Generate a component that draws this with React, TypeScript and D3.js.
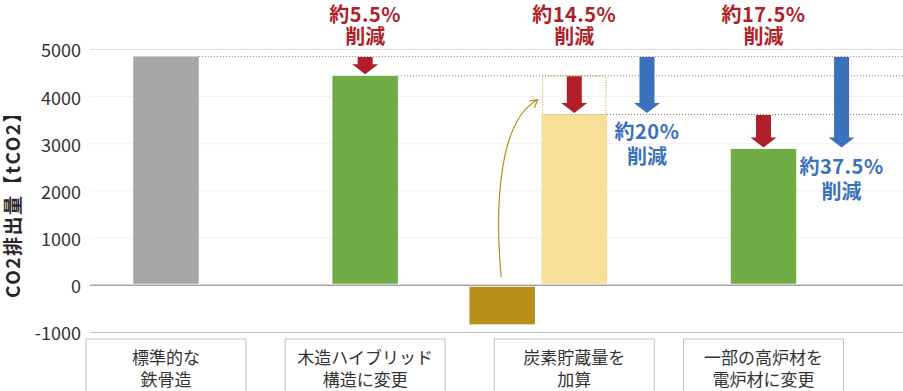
import React from "react";
import * as d3 from "d3";

// ---- data ----
const categoryLine1 = ["標準的な", "木造ハイブリッド", "炭素貯蔵量を", "一部の高炉材を"];
const categoryLine2 = ["鉄骨造", "構造に変更", "加算", "電炉材に変更"];
const barNames = ["標準的な鉄骨造", "木造ハイブリッド", "炭素貯蔵量", "加算後", "電炉材に変更"];
const barValues = [4850, 4440, -830, 3620, 2890];
const yTicks = [-1000, 0, 1000, 2000, 3000, 4000, 5000];
const redLabels = ["約5.5%", "約14.5%", "約17.5%"];
const redFrom = [4850, 4440, 3620];
const redTo = [4440, 3620, 2890];
const blueLabels = ["約20%", "約37.5%"];
const blueFrom = [4850, 4850];
const blueTo = [3620, 2890];
const axisTitle = "CO2排出量【tCO2】";

// ---- layout ----
const W = 903;
const H = 391;
const barPos = [0, 1, 1.688, 2.05, 3];
const redPos = [1, 2.05, 3];
const bluePos = [2.415, 3.392];
const boxPos = [0, 1, 2.05, 3];
const barColors = ["#A6A6A6", "#70AD47", "#B8901C", "#F7DF9A", "#70AD47"];
const RED = "#B01F29";
const BLUE = "#3B71BC";
const FONT = "'Noto Sans CJK JP', 'Noto Sans', sans-serif";

export default function App() {
  const y = d3.scaleLinear().domain([-1000, 5000]).range([332.4, 49.4]);
  const x = d3.scaleLinear().domain([0, 3]).range([166, 763.5]);
  const bw = 65.5;
  const y0 = y(0);

  const arrow = (cx: number, top: number, tip: number, color: string, key: string) => {
    const sw = 7.5, hw = 13, hh = 10;
    const hs = tip - hh;
    const d = `M${cx - sw},${top}L${cx + sw},${top}L${cx + sw},${hs}L${cx + hw},${hs}L${cx},${tip}L${cx - hw},${hs}L${cx - sw},${hs}Z`;
    return <path key={key} d={d} fill={color} />;
  };

  const yel = 3;
  const yelLeft = x(barPos[yel]) - bw / 2;
  const yelRight = x(barPos[yel]) + bw / 2;
  const negCx = x(barPos[2]);

  return (
    <svg width={W} height={H} style={{ position: "absolute", left: 0, top: 0, background: "#fff" }} fontFamily={FONT}>
      <rect width={W} height={H} fill="#fff" />
      {/* gridlines */}
      {yTicks.map((t) => (
        <line key={"g" + t} x1={90} x2={W} y1={y(t)} y2={y(t)}
          stroke={t === 0 ? "#A6A6A6" : t === 5000 ? "#D9D9D9" : t === -1000 ? "#BFBFBF" : "#F2F2F2"}
          strokeWidth={t === 0 ? 1.5 : 1} />
      ))}
      {/* y tick labels */}
      {yTicks.map((t) => (
        <text key={"t" + t} x={81} y={y(t)} textAnchor="end" dominantBaseline="central" fontSize={18} fill="#333">{t}</text>
      ))}
      {/* axis title */}
      <text transform={`translate(11,200) rotate(-90)`} textAnchor="middle" dominantBaseline="central" fontSize={19} letterSpacing={1.5} fontWeight="bold" fill="#262626">{axisTitle}</text>

      {/* bars */}
      {barValues.map((v, i) => {
        const cx = x(barPos[i]);
        const top = v >= 0 ? y(v) : y0 + 1.5;
        const bot = v >= 0 ? y0 - 1.5 : y(v);
        return <rect key={barNames[i]} x={cx - bw / 2} y={top} width={bw} height={bot - top} fill={barColors[i]} />;
      })}

      {/* dotted reference lines */}
      <line x1={x(barPos[0]) + bw / 2} x2={W} y1={y(barValues[0])} y2={y(barValues[0])} stroke="#7F7F7F" strokeDasharray="1,2" />
      <line x1={x(barPos[1]) + bw / 2} x2={W} y1={y(barValues[1])} y2={y(barValues[1])} stroke="#7F7F7F" strokeDasharray="1,2" />
      <line x1={yelRight} x2={W} y1={y(barValues[3])} y2={y(barValues[3])} stroke="#7F7F7F" strokeDasharray="1,2" />
      {/* dotted box on yellow bar */}
      <rect x={yelLeft + 1} y={y(barValues[1])} width={bw - 2} height={y(barValues[3]) - y(barValues[1])} fill="none" stroke="#C49A2C" strokeDasharray="1,1.5" />

      {/* curved arrow */}
      <path d={`M${negCx - 1},${y0 - 8} C${negCx - 8},${200} ${negCx - 2},${120} ${yelLeft - 4},${y(barValues[1]) + 24}`}
        fill="none" stroke="#B8901C" strokeWidth={1.2} />
      <path d={`M${yelLeft - 12},${y(barValues[1]) + 25} L${yelLeft - 4},${y(barValues[1]) + 24} L${yelLeft - 7},${y(barValues[1]) + 32}`}
        fill="none" stroke="#B8901C" strokeWidth={1.2} />

      {/* red arrows and labels */}
      {redLabels.map((lab, i) => {
        const cx = x(redPos[i]);
        return (
          <g key={lab}>
            {arrow(cx, y(redFrom[i]) + 0.5, y(redTo[i]) - 1.5, RED, "ra" + i)}
            <text x={cx} y={13} textAnchor="middle" dominantBaseline="central" fontSize={20} letterSpacing={0.5} fontWeight="bold" fill={RED}>{lab}</text>
            <text x={cx} y={35.5} textAnchor="middle" dominantBaseline="central" fontSize={20} fontWeight="bold" fill={RED}>削減</text>
          </g>
        );
      })}
      {/* blue arrows and labels */}
      {blueLabels.map((lab, i) => {
        const cx = x(bluePos[i]);
        const tip = y(blueTo[i]) - 1.5;
        return (
          <g key={lab}>
            {arrow(cx, y(blueFrom[i]) + 0.5, tip, BLUE, "ba" + i)}
            <text x={cx} y={tip + 18} textAnchor="middle" dominantBaseline="central" fontSize={20} letterSpacing={0.5} fontWeight="bold" fill={BLUE}>{lab}</text>
            <text x={cx} y={tip + 43} textAnchor="middle" dominantBaseline="central" fontSize={20} fontWeight="bold" fill={BLUE}>削減</text>
          </g>
        );
      })}

      {/* category boxes */}
      {categoryLine1.map((l1, i) => {
        const cx = x(boxPos[i]);
        return (
          <g key={l1}>
            <rect x={cx - 80} y={339} width={160} height={60} fill="#fff" stroke="#BFBFBF" />
            <text x={cx} y={356} textAnchor="middle" dominantBaseline="central" fontSize={17} fill="#333">{l1}</text>
            <text x={cx} y={378} textAnchor="middle" dominantBaseline="central" fontSize={17} fill="#333">{categoryLine2[i]}</text>
          </g>
        );
      })}
    </svg>
  );
}
